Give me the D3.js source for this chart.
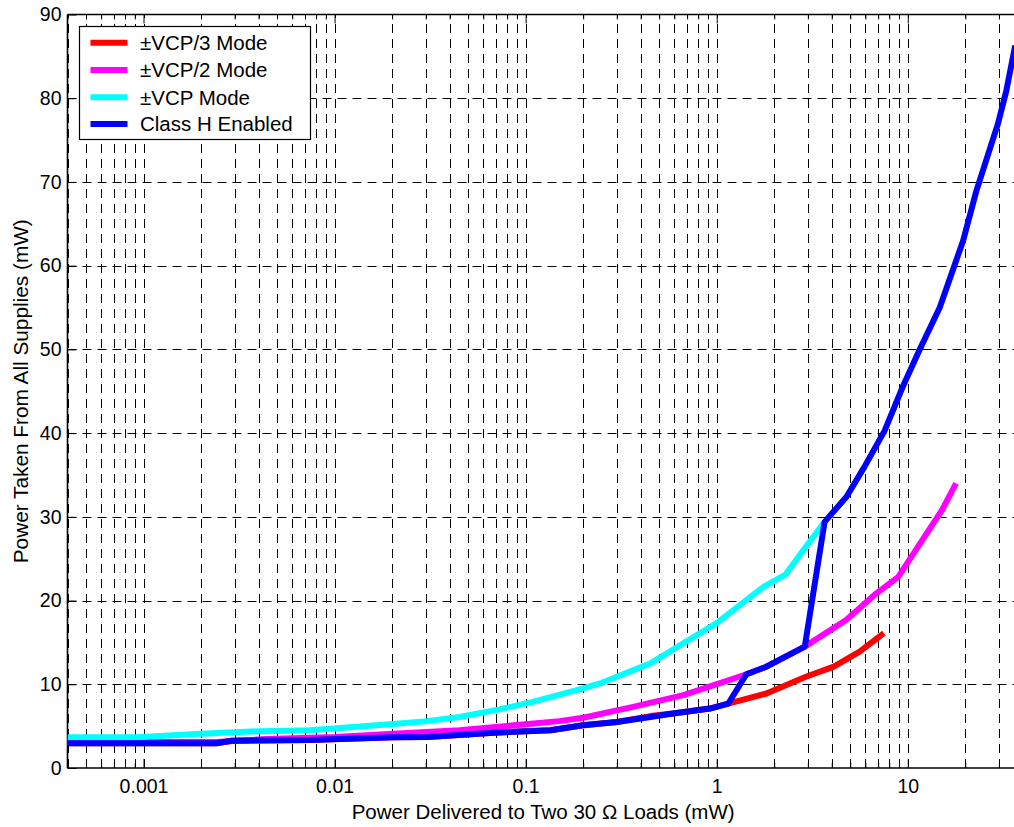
<!DOCTYPE html>
<html>
<head>
<meta charset="utf-8">
<script src="https://cdn.jsdelivr.net/npm/d3@7"></script>
<style>
  html, body { margin: 0; padding: 0; background: #fff; }
  svg { display: block; }
  text { font-family: "Liberation Sans", Arial, Helvetica, sans-serif; fill: #000; }
</style>
</head>
<body>
<svg id="chart" width="1014" height="827"></svg>
<script>
// ---------------- data ----------------
const xTickValues = [0.001, 0.01, 0.1, 1, 10];
const xTickLabels = ["0.001", "0.01", "0.1", "1", "10"];
const yTickValues = [0, 10, 20, 30, 40, 50, 60, 70, 80, 90];
const yTickLabels = ["0", "10", "20", "30", "40", "50", "60", "70", "80", "90"];

const seriesNames = ["\u00B1VCP/3 Mode", "\u00B1VCP/2 Mode", "\u00B1VCP Mode", "Class H Enabled"];
const seriesColors = ["#ff0000", "#ff00ff", "#00ffff", "#0000ff"];

const vcp3X = [0.0004, 0.0024, 0.0029, 0.0074, 0.0203, 0.0305, 0.068, 0.1, 0.135, 0.2, 0.3, 0.45, 0.59, 0.92, 1.15, 1.82, 2.93, 4.1, 5.6, 7.5];
const vcp3Y = [2.95, 2.95, 3.26, 3.34, 3.66, 3.7, 4.2, 4.4, 4.5, 5.1, 5.5, 6.2, 6.5, 7.1, 7.7, 8.9, 10.9, 12.1, 13.9, 16.1];

const vcp2X = [0.0004, 0.0024, 0.0041, 0.01, 0.0203, 0.045, 0.07, 0.15, 0.2, 0.365, 0.67, 1.03, 1.43, 1.82, 2.89, 4.78, 6.8, 8.9, 11.3, 15.1, 17.9];
const vcp2Y = [3.1, 3.1, 3.42, 3.7, 4.1, 4.5, 4.9, 5.6, 6.0, 7.3, 8.7, 10.1, 11.2, 12.1, 14.5, 17.7, 20.8, 22.8, 26.4, 30.8, 34.0];

const vcpX = [0.0004, 0.00092, 0.002, 0.0041, 0.0074, 0.0203, 0.0305, 0.045, 0.073, 0.109, 0.2, 0.245, 0.3, 0.45, 0.67, 1.0, 1.75, 2.29, 2.84, 3.67];
const vcpY = [3.66, 3.66, 4.1, 4.4, 4.5, 5.25, 5.6, 6.1, 7.0, 7.9, 9.5, 10.1, 10.9, 12.5, 14.9, 17.3, 21.6, 23.1, 26.0, 29.4];

const classHX = [0.0004, 0.0024, 0.0029, 0.0074, 0.0203, 0.0305, 0.068, 0.1, 0.135, 0.2, 0.3, 0.45, 0.59, 0.92, 1.15, 1.43, 1.82, 2.89, 3.67, 4.78, 5.94, 7.57, 9.44, 11.5, 14.7, 19.5, 22.9, 29.6, 32.8, 36.5];
const classHY = [2.95, 2.95, 3.26, 3.34, 3.66, 3.7, 4.2, 4.4, 4.5, 5.1, 5.5, 6.1, 6.5, 7.1, 7.7, 11.2, 12.1, 14.5, 29.4, 32.4, 36.0, 40.3, 45.6, 49.9, 55.0, 63.0, 69.0, 76.9, 80.9, 86.3];

const xLabel = "Power Delivered to Two 30 \u03A9 Loads (mW)";
const yLabel = "Power Taken From All Supplies (mW)";

// ---------------- layout ----------------
const pLeft = 67.5, pRight = 1022.8, pTop = 14.5, pBottom = 768;
const svg = d3.select("#chart");

const x = d3.scaleLog().domain([0.0004, 40]).range([pLeft, pRight]);
const y = d3.scaleLinear().domain([0, 90]).range([pBottom, pTop]);

// minor tick values for log axis
const minorX = [];
for (let e = -4; e <= 1; e++) {
  for (let m = 2; m <= 9; m++) {
    const v = +(m * Math.pow(10, e)).toPrecision(3);
    if (v >= 0.0004 * 0.999 && v <= 40 * 1.001) minorX.push(v);
  }
}

// clip
svg.append("defs").append("clipPath").attr("id", "plotClip")
  .append("rect").attr("x", pLeft).attr("y", pTop).attr("width", pRight - pLeft).attr("height", pBottom - pTop);

// grid
const grid = svg.append("g").attr("stroke", "#000").attr("stroke-width", 1)
  .attr("stroke-dasharray", "9,6").attr("fill", "none");
grid.selectAll("line.vx").data(xTickValues.concat(minorX)).enter().append("line")
  .attr("x1", d => Math.round(x(d)) + 0.5).attr("x2", d => Math.round(x(d)) + 0.5)
  .attr("y1", pBottom).attr("y2", pTop);
grid.selectAll("line.hy").data(yTickValues.filter(v => v > 0 && v < 90)).enter().append("line")
  .attr("x1", pLeft).attr("x2", pRight)
  .attr("y1", d => Math.round(y(d)) + 0.5).attr("y2", d => Math.round(y(d)) + 0.5);

// axes (ticks inside, MATLAB style)
const xAxisBottom = d3.axisBottom(x).tickValues(xTickValues).tickFormat((d, i) => xTickLabels[i])
  .tickSizeInner(-9).tickSizeOuter(0).tickPadding(11);
const gxb = svg.append("g").attr("transform", `translate(0,${pBottom})`).call(xAxisBottom);
gxb.select(".domain").remove();
gxb.selectAll(".tick text").attr("font-size", "19.5px").attr("font-family", "Liberation Sans, Arial, sans-serif");

const xMinorBottom = d3.axisBottom(x).tickValues(minorX).tickFormat("").tickSizeInner(-5).tickSizeOuter(0);
const gxm = svg.append("g").attr("transform", `translate(0,${pBottom})`).call(xMinorBottom);
gxm.select(".domain").remove();

const xAxisTop = d3.axisTop(x).tickValues(xTickValues).tickFormat("").tickSizeInner(-9).tickSizeOuter(0);
const gxt = svg.append("g").attr("transform", `translate(0,${pTop})`).call(xAxisTop);
gxt.select(".domain").remove();
const xMinorTop = d3.axisTop(x).tickValues(minorX).tickFormat("").tickSizeInner(-5).tickSizeOuter(0);
const gxtm = svg.append("g").attr("transform", `translate(0,${pTop})`).call(xMinorTop);
gxtm.select(".domain").remove();

const yAxisLeft = d3.axisLeft(y).tickValues(yTickValues).tickFormat((d, i) => yTickLabels[i])
  .tickSizeInner(-9).tickSizeOuter(0).tickPadding(6);
const gyl = svg.append("g").attr("transform", `translate(${pLeft},0)`).call(yAxisLeft);
gyl.select(".domain").remove();
gyl.selectAll(".tick text").attr("font-size", "19.5px").attr("font-family", "Liberation Sans, Arial, sans-serif");

// box
const box = svg.append("g").attr("stroke", "#000").attr("stroke-width", 1.6);
box.append("line").attr("x1", pLeft).attr("x2", pLeft).attr("y1", pTop).attr("y2", pBottom);
box.append("line").attr("x1", pLeft).attr("x2", pRight).attr("y1", pBottom).attr("y2", pBottom);
box.append("line").attr("x1", pLeft).attr("x2", pRight).attr("y1", pTop).attr("y2", pTop);
box.append("line").attr("x1", pRight).attr("x2", pRight).attr("y1", pTop).attr("y2", pBottom);

// series
const series = [
  { xs: vcp3X, ys: vcp3Y },
  { xs: vcp2X, ys: vcp2Y },
  { xs: vcpX, ys: vcpY },
  { xs: classHX, ys: classHY }
];
const line = d3.line().x(d => x(d[0])).y(d => y(d[1]));
const plot = svg.append("g").attr("clip-path", "url(#plotClip)");
series.forEach((s, i) => {
  const pts = s.xs.map((v, j) => [v, s.ys[j]]);
  plot.append("path").datum(pts).attr("d", line)
    .attr("fill", "none").attr("stroke", seriesColors[i]).attr("stroke-width", 6)
    .attr("stroke-linejoin", "round").attr("stroke-linecap", "butt");
});

// legend
const lg = svg.append("g");
lg.append("rect").attr("x", 79.5).attr("y", 26.5).attr("width", 231).attr("height", 113)
  .attr("fill", "#fff").attr("stroke", "#000").attr("stroke-width", 1.2);
const legendY = [42.7, 70, 97.3, 124];
seriesNames.forEach((name, i) => {
  lg.append("line").attr("x1", 90.5).attr("x2", 127.5).attr("y1", legendY[i]).attr("y2", legendY[i])
    .attr("stroke", seriesColors[i]).attr("stroke-width", 6);
  lg.append("text").attr("x", 140).attr("y", legendY[i]).attr("dy", "0.36em")
    .attr("font-size", "20.5px").text(name);
});

// axis labels
svg.append("text").attr("x", (pLeft + pRight) / 2 - 2).attr("y", 812).attr("dy", "0.36em")
  .attr("text-anchor", "middle").attr("font-size", "20.5px").text(xLabel);
svg.append("text").attr("transform", `translate(20,${(pTop + pBottom) / 2}) rotate(-90)`)
  .attr("dy", "0.36em").attr("text-anchor", "middle").attr("font-size", "20.8px").text(yLabel);
</script>
</body>
</html>
